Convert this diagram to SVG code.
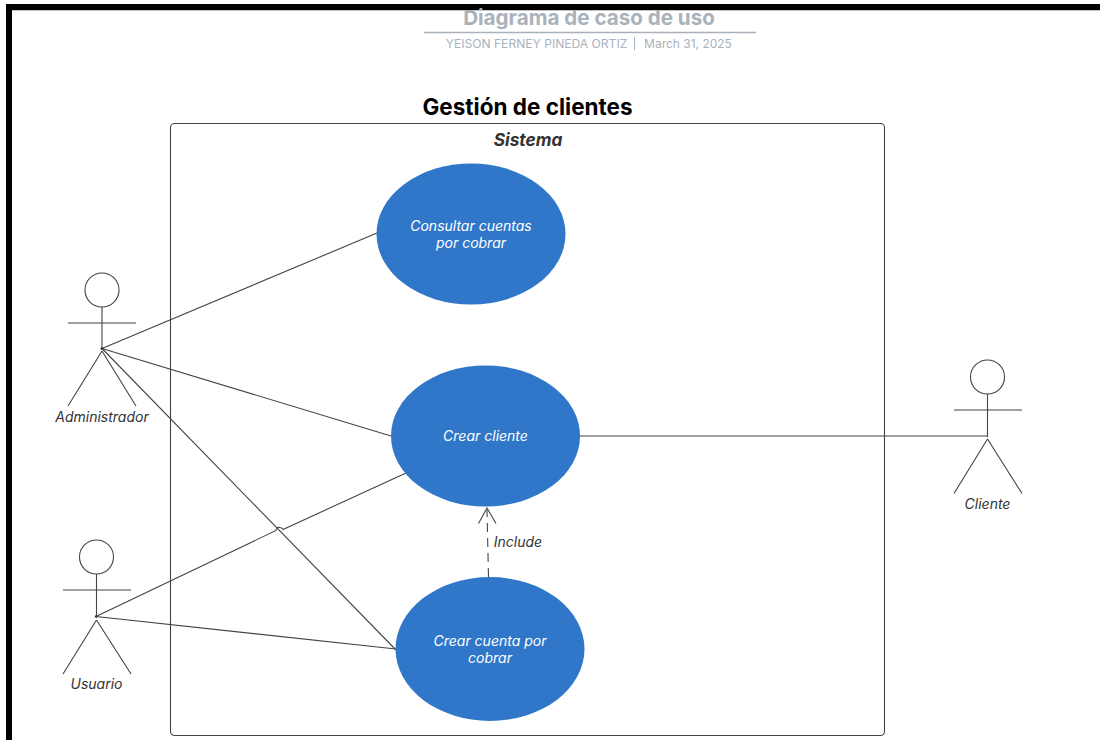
<svg xmlns="http://www.w3.org/2000/svg" width="1100" height="740" viewBox="0 0 1100 740">
<style>
text{font-family:Inter,"Liberation Sans",sans-serif;text-anchor:middle}
.l{fill:none;stroke:#444;stroke-width:1.1}
.a{font-size:14px;font-style:italic;fill:#333}
.u{fill:#3077c9}
.t{font-size:14px;font-style:italic;fill:#fff}
</style>
<rect width="1100" height="740" fill="#fff"/>
<path d="M6 4H1100V10H12V740H6Z" fill="#000"/>
<line x1="12" y1="10.500" x2="1100" y2="10.500" stroke="#c4c4c4"/>
<g id="header">
<text x="589" y="25" font-size="20.600" font-weight="700" fill="#a9b2bb">Diagrama de caso de uso</text>
<line x1="424" y1="32.500" x2="756" y2="32.500" stroke="#a9b2bb" stroke-width="1.300"/>
<text x="536.500" y="48" font-size="12.100" fill="#a9b2bb">YEISON FERNEY PINEDA ORTIZ</text>
<line x1="634.500" y1="37" x2="634.500" y2="50" stroke="#a9b2bb"/>
<text x="688" y="48" font-size="12" fill="#a9b2bb">March 31, 2025</text>
</g>
<text id="title" x="527.500" y="115" font-size="22.500" font-weight="700" fill="#000">Gestión de clientes</text>
<g id="system">
<rect x="170.500" y="123.500" width="714" height="612" rx="4" fill="#fff" stroke="#444" stroke-width="1.100"/>
<text x="528" y="146" font-size="17.300" font-weight="700" font-style="italic" fill="#333">Sistema</text>
</g>
<g id="connectors">
<path class="l" d="M102 348.500L377 233"/>
<path class="l" d="M102 348.500L391 436"/>
<path class="l" d="M102 348.500L396 650"/>
<path class="l" d="M96 616.500L276 530.500C276 528 278 527 280 527.500C281 527.500 282 528 283 529.500L406 473"/>
<path class="l" d="M96 616.500L396 649"/>
<path class="l" d="M580 436H988"/>
<path class="l" d="M488.500 577L487 510" stroke-dasharray="9 6"/>
<path class="l" d="M478.500 523.500L487 508L496 523.500"/>
<circle cx="102" cy="348.500" r="1.500" fill="#333"/>
<circle cx="96" cy="616.500" r="1.200" fill="#333"/>
</g>
<g id="uc-consultar">
<ellipse class="u" cx="471" cy="234" rx="94.500" ry="70.500"/>
<text class="t" x="471" y="231">Consultar cuentas</text>
<text class="t" x="471" y="248">por cobrar</text>
</g>
<g id="uc-crear-cliente">
<ellipse class="u" cx="485.500" cy="436" rx="94.500" ry="70.500"/>
<text class="t" x="485.500" y="441">Crear cliente</text>
</g>
<g id="uc-crear-cuenta">
<ellipse class="u" cx="490" cy="649" rx="94.500" ry="72"/>
<text class="t" x="490" y="646">Crear cuenta por</text>
<text class="t" x="490" y="663">cobrar</text>
</g>
<text x="518" y="547" class="a" id="include">Include</text>
<g id="actor-administrador">
<circle class="l" cx="102" cy="290" r="17"/>
<path class="l" d="M102 307V350M68 323H136M102 351L68 406M102 351L136 406"/>
<text class="a" x="102" y="422">Administrador</text>
</g>
<g id="actor-usuario">
<circle class="l" cx="96.500" cy="557" r="17"/>
<path class="l" d="M96.500 574V618M63 590H131M96.500 620L63 674M96.500 620L131 674"/>
<text class="a" x="96.500" y="689">Usuario</text>
</g>
<g id="actor-cliente">
<circle class="l" cx="987.500" cy="377" r="17"/>
<path class="l" d="M987.500 394V437M954 410H1022M987.500 439L954 493.500M987.500 439L1022 493.500"/>
<text class="a" x="987.500" y="509">Cliente</text>
</g>
</svg>
